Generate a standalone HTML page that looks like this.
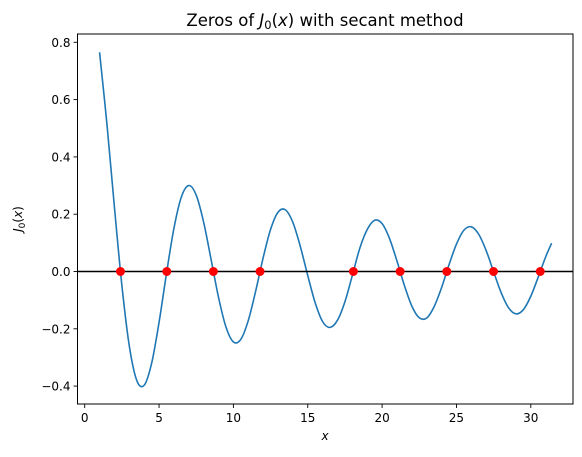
<!DOCTYPE html>
<html><head><meta charset="utf-8"><style>
body{margin:0;background:#fff;}
svg{display:block;font-family:"DejaVu Sans","Liberation Sans",sans-serif;}
</style></head><body>
<svg id="chart" width="582" height="457" viewBox="0 0 582 457">
<rect width="582" height="457" fill="#fff"/>
<g id="plot"></g>
<text x="325" y="26" text-anchor="middle" font-size="16.5">Zeros of <tspan font-style="italic">J</tspan><tspan font-size="11.5" dy="3">0</tspan><tspan dy="-3">(</tspan><tspan font-style="italic">x</tspan>) with secant method</text>
<text x="325" y="440" text-anchor="middle" font-size="12" font-style="italic">x</text>
<text transform="translate(22,219) rotate(-90)" text-anchor="middle" font-size="12"><tspan font-style="italic">J</tspan><tspan font-size="9" dy="3">0</tspan><tspan dy="-3">(</tspan><tspan font-style="italic">x</tspan>)</text>
</svg>
<script>
const xs = [1,1.5,2,2.5,3,3.5,4,4.5,5,5.5,6,6.5,7,7.5,8,8.5,9,9.5,10,10.5,11,11.5,12,12.5,13,13.5,14,14.5,15,15.5,16,16.5,17,17.5,18,18.5,19,19.5,20,20.5,21,21.5,22,22.5,23,23.5,24,24.5,25,25.5,26,26.5,27,27.5,28,28.5,29,29.5,30,30.5,31,31.4];
const ys = [0.7652,0.5118,0.2239,-0.0484,-0.2601,-0.3801,-0.3971,-0.3205,-0.1776,-0.0068,0.1506,0.2601,0.3001,0.2663,0.1717,0.0419,-0.0903,-0.1939,-0.2459,-0.2366,-0.1712,-0.0677,0.0477,0.1469,0.2069,0.2150,0.1711,0.0875,-0.0142,-0.1092,-0.1749,-0.1950,-0.1699,-0.1054,-0.0134,0.0811,0.1466,0.1789,0.1671,0.1151,0.0366,-0.0489,-0.1208,-0.1616,-0.1624,-0.1225,-0.0564,0.0237,0.0954,0.1440,0.1560,0.1296,0.0728,-0.0010,-0.0732,-0.1264,-0.1478,-0.1333,-0.0864,-0.0194,0.0511,0.0987];
const zeros = [2.405,5.520,8.654,11.792,18.071,21.212,24.352,27.493,30.635];
const xTicks = [0,5,10,15,20,25,30];
const yTicks = [-0.4,-0.2,0.0,0.2,0.4,0.6,0.8];
const yTickLabels = ["\u22120.4","\u22120.2","0.0","0.2","0.4","0.6","0.8"];

const L=77.5,R=573,T=34,B=404;
const sx = x => 84.7 + x*14.87;
const sy = y => 271.5 - y*286.5;
const NS="http://www.w3.org/2000/svg";
const g=document.getElementById('plot');
function mk(t,a){const e=document.createElementNS(NS,t);for(const k in a)e.setAttribute(k,a[k]);return e;}

const P=xs.map((x,i)=>[sx(x),sy(ys[i])]);
let d=`M${P[0][0]},${P[0][1]}`;
for(let i=0;i<P.length-1;i++){
  const p0=P[i-1]||P[i],p1=P[i],p2=P[i+1],p3=P[i+2]||P[i+1];
  const c1=[p1[0]+(p2[0]-p0[0])/6,p1[1]+(p2[1]-p0[1])/6];
  const c2=[p2[0]-(p3[0]-p1[0])/6,p2[1]-(p3[1]-p1[1])/6];
  d+=` C${c1[0]},${c1[1]} ${c2[0]},${c2[1]} ${p2[0]},${p2[1]}`;
}
const curve=mk('path',{d:d,fill:'none',stroke:'#1f77b4','stroke-width':1.6});


g.appendChild(curve);

const zl=mk('line',{x1:L,x2:R,y1:sy(0),y2:sy(0),stroke:'#000','stroke-width':1.6});


g.appendChild(zl);

zeros.forEach(z=>{
  const c=mk('circle',{cx:sx(z),cy:sy(0),r:4,fill:'#ff0000',stroke:'#ff0000'});
  
  
  g.appendChild(c);
});

const fr=mk('rect',{x:L,y:T,width:R-L,height:B-T,fill:'none',stroke:'#000','stroke-width':1});


g.appendChild(fr);

xTicks.forEach(t=>{
  const X=sx(t);
  g.appendChild(mk('line',{x1:X,x2:X,y1:B,y2:B+4,stroke:'#000','stroke-width':0.9}));
  const tx=mk('text',{x:X,y:B+18,'text-anchor':'middle','font-size':12});
  tx.textContent=t;
  
  
  g.appendChild(tx);
});
yTicks.forEach((t,i)=>{
  const Y=sy(t);
  g.appendChild(mk('line',{x1:L-4,x2:L,y1:Y,y2:Y,stroke:'#000','stroke-width':0.9}));
  const tx=mk('text',{x:L-7,y:Y+4.5,'text-anchor':'end','font-size':12});
  tx.textContent=yTickLabels[i];
  
  
  g.appendChild(tx);
});
</script>
</body></html>
